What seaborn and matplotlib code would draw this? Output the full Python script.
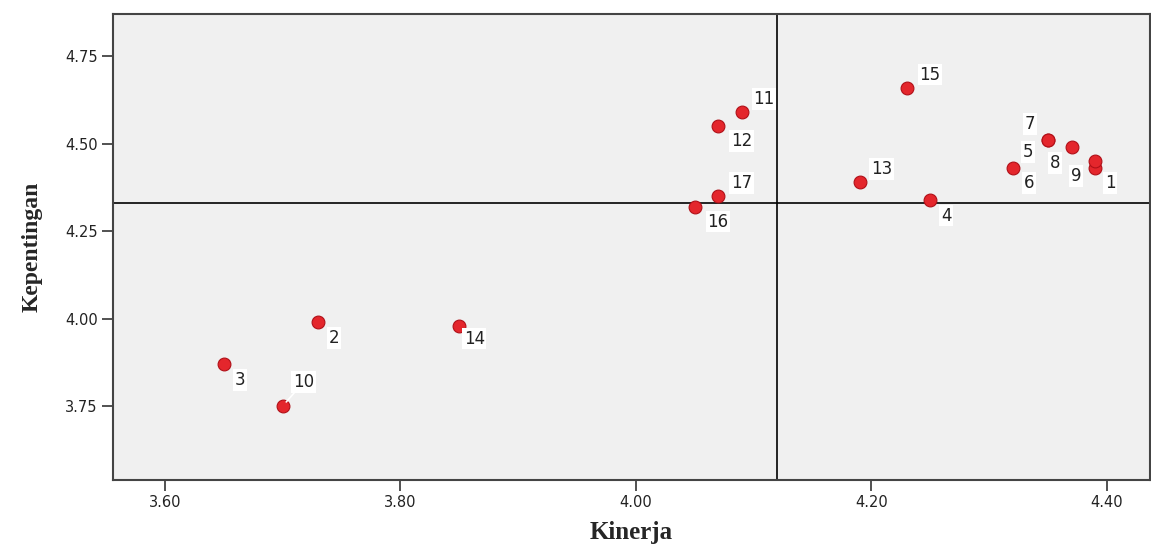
import matplotlib
matplotlib.use("Agg")
import matplotlib.pyplot as plt
import seaborn as sns
import pandas as pd

# ---- data ----
item_ids = [1, 2, 3, 4, 5, 6, 7, 8, 9, 10, 11, 12, 13, 14, 15, 16, 17]
kinerja = [4.39, 3.73, 3.65, 4.25, 4.35, 4.32, 4.35, 4.37, 4.39, 3.70,
           4.09, 4.07, 4.19, 3.85, 4.23, 4.05, 4.07]
kepentingan = [4.43, 3.99, 3.87, 4.34, 4.51, 4.43, 4.51, 4.49, 4.45, 3.75,
               4.59, 4.55, 4.39, 3.98, 4.66, 4.32, 4.35]
x_ticks = [3.60, 3.80, 4.00, 4.20, 4.40]
x_tick_labels = ["3.60", "3.80", "4.00", "4.20", "4.40"]
y_ticks = [3.75, 4.00, 4.25, 4.50, 4.75]
y_tick_labels = ["3.75", "4.00", "4.25", "4.50", "4.75"]
mean_kinerja = 4.12
mean_kepentingan = 4.33

# label offsets in pixels (style only)
label_offsets = {
    1: (15, -15), 2: (16, -16), 3: (16, -16), 4: (16, -16), 5: (-20, -12),
    6: (16, -15), 7: (-18, 16), 8: (-17, -16), 9: (-19, -15), 10: (21, 24),
    11: (22, 13), 12: (23, -15), 13: (22, 13), 14: (15, -13), 15: (23, 13),
    16: (23, -15), 17: (23, 13),
}

df = pd.DataFrame({"id": item_ids, "Kinerja": kinerja, "Kepentingan": kepentingan})

sns.set_theme(style="white")
plt.rcParams["font.family"] = ["DejaVu Sans"]

fig = plt.figure(figsize=(11.51, 5.47), dpi=100)
ax = fig.add_axes([113 / 1151, 1 - 480 / 547, (1150 - 113) / 1151, (480 - 14) / 547])
ax.set_facecolor("#f0f0f0")

ax.axvline(mean_kinerja, color="black", lw=1.2, zorder=1)
ax.axhline(mean_kepentingan, color="black", lw=1.2, zorder=1)

sns.scatterplot(data=df, x="Kinerja", y="Kepentingan", ax=ax, s=85,
                color="#e4262c", edgecolor="#b01018", linewidth=0.8, zorder=3,
                legend=False)

for i, xv, yv in zip(item_ids, kinerja, kepentingan):
    dx, dy = label_offsets[i]
    arrow = None
    if i == 10:
        arrow = dict(arrowstyle="-", color="white", lw=1.2, shrinkA=0, shrinkB=4)
    ax.annotate(str(i), (xv, yv), xytext=(dx, dy), textcoords="offset pixels",
                ha="center", va="center", fontsize=12, color="#222222",
                bbox=dict(boxstyle="square,pad=0.1", fc="white", ec="none"),
                arrowprops=arrow, zorder=4)

ax.set_xlim(3.556, 4.4365)
ax.set_ylim(3.539, 4.87)
ax.set_xticks(x_ticks)
ax.set_xticklabels(x_tick_labels)
ax.set_yticks(y_ticks)
ax.set_yticklabels(y_tick_labels)
ax.tick_params(axis="both", direction="out", length=8, width=1.2, color="#333333",
               labelsize=10.5, labelcolor="#222222", pad=3, bottom=True, left=True)

for side in ["top", "right", "left", "bottom"]:
    ax.spines[side].set_color("#444444")
    ax.spines[side].set_linewidth(1.5)

ax.set_xlabel("Kinerja", fontsize=18, fontweight="bold", family="Liberation Serif", labelpad=8)
ax.set_ylabel("Kepentingan", fontsize=17, fontweight="bold", family="Liberation Serif", labelpad=16)

fig.savefig("out.png", dpi=100)
